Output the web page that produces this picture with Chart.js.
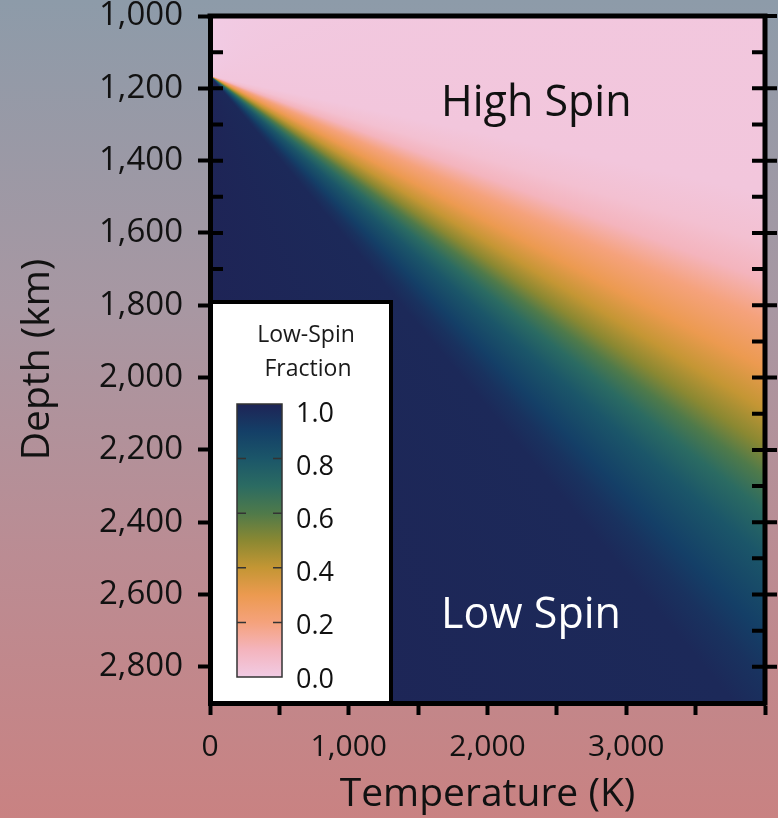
<!DOCTYPE html>
<html>
<head>
<meta charset="utf-8">
<script src="https://cdn.jsdelivr.net/npm/chart.js@4.4.1/dist/chart.umd.min.js"></script>
<style>
  html, body { margin: 0; padding: 0; }
  body {
    width: 778px; height: 818px; overflow: hidden;
    background: linear-gradient(to bottom, #8d9ba9 0%, #a897a2 38%, #bb8c93 68%, #c98282 100%);
  }
  #wrap { position: relative; width: 778px; height: 818px; }
</style>
</head>
<body>
<div id="wrap"><canvas id="spinChart" width="778" height="818"></canvas></div>
<script>
// axes
const depthMin = 1000, depthMax = 2900;
const tempMin = 0, tempMax = 4000;
const depthTicks = [1000, 1200, 1400, 1600, 1800, 2000, 2200, 2400, 2600, 2800];
const tempTicks = [0, 500, 1000, 1500, 2000, 2500, 3000, 3500, 4000];
const tempLabels = [0, 1000, 2000, 3000];

// low-spin fraction contours: all meet at T = 0, fan out with temperature
const originDepth = 1165;
const contourLevels = [0.02, 0.05, 0.1, 0.2, 0.3, 0.4, 0.5, 0.6, 0.7, 0.8, 0.9, 0.95, 0.98];
const contourDepthAt4000 = [1490, 1627, 1730, 1842, 1975, 2089, 2191, 2274, 2370, 2501, 2712, 2840, 3000];

// colour scale (fraction -> colour)
const cmapStops = [0, 0.1, 0.2, 0.3, 0.4, 0.5, 0.6, 0.7, 0.8, 0.9, 1.0];
const cmapColors = ['#f1cbe4', '#f4b4bd', '#f5a27c', '#ec9a50', '#c49634', '#8a8832',
                    '#4f7a4a', '#2b6b62', '#1b5669', '#143f67', '#1e2456'];
const cbarTicks = [1.0, 0.8, 0.6, 0.4, 0.2, 0.0];

const FONT = "'Open Sans', 'Noto Sans', sans-serif";

function hexToRgb(h) {
  const n = parseInt(h.slice(1), 16);
  return [n >> 16, (n >> 8) & 255, n & 255];
}
function colorAt(f) {
  for (let i = 1; i < cmapStops.length; i++) {
    if (f <= cmapStops[i]) {
      const t = (f - cmapStops[i - 1]) / (cmapStops[i] - cmapStops[i - 1]);
      const a = hexToRgb(cmapColors[i - 1]), b = hexToRgb(cmapColors[i]);
      return 'rgb(' + a.map((v, k) => Math.round(v + (b[k] - v) * t)).join(',') + ')';
    }
  }
  return cmapColors[cmapColors.length - 1];
}

// the fraction only depends on the direction from the meeting point,
// so one conic gradient shades every band
function spinGradient(chart) {
  const {ctx, scales: {x, y}} = chart;
  const ox = x.getPixelForValue(tempMin), oy = y.getPixelForValue(originDepth);
  const g = ctx.createConicGradient(-Math.PI / 2, ox, oy);
  g.addColorStop(0, colorAt(0));
  const ex = x.getPixelForValue(tempMax);
  contourLevels.forEach((lv, i) => {
    const ey = y.getPixelForValue(contourDepthAt4000[i]);
    const ang = Math.atan2(ey - oy, ex - ox);
    g.addColorStop((ang + Math.PI / 2) / (2 * Math.PI), colorAt(lv));
  });
  g.addColorStop(0.5, colorAt(1));
  g.addColorStop(1, colorAt(1));
  return g;
}

const last = contourLevels.length - 1;
const datasets = contourLevels.map((lv, i) => ({
  label: 'n_LS = ' + lv,
  data: [{x: tempMin, y: originDepth}, {x: tempMax, y: contourDepthAt4000[i]}],
  borderWidth: 0,
  borderColor: 'rgba(0,0,0,0)',
  pointRadius: 0,
  tension: 0,
  // deepest contour paints everything above it, the others everything below
  fill: i === last ? {value: depthMin} : {value: depthMax},
  backgroundColor: (c) => c.chart.chartArea ? spinGradient(c.chart) : 'rgba(0,0,0,0)'
}));

const framePlugin = {
  id: 'frame',
  afterDraw(chart) {
    const {ctx, chartArea: a, scales: {x, y}} = chart;
    ctx.save();
    ctx.strokeStyle = '#000';
    ctx.lineCap = 'butt';
    ctx.lineWidth = 5;
    ctx.beginPath();
    ctx.moveTo(a.left - 2.5, a.top);
    ctx.lineTo(a.right, a.top);
    ctx.lineTo(a.right, a.bottom + 2.5);
    ctx.stroke();

    ctx.lineWidth = 4;
    ctx.beginPath();
    for (let d = depthMin; d <= depthMax; d += 100) {
      const py = y.getPixelForValue(d);
      ctx.moveTo(a.left, py);
      ctx.lineTo(a.left + 13, py);
      ctx.moveTo(a.right - 13, py);
      ctx.lineTo(a.right + (depthTicks.includes(d) ? 12 : 0), py);
    }
    ctx.stroke();

    // legend box
    const bx = a.left + 1, by = 302, bw = 180, bh = a.bottom - by;
    ctx.fillStyle = '#ffffff';
    ctx.fillRect(bx, by, bw, bh);
    ctx.lineWidth = 4;
    ctx.strokeRect(bx, by, bw, bh);

    ctx.fillStyle = '#1a1a1a';
    ctx.font = '23px ' + FONT;
    ctx.textAlign = 'center';
    ctx.textBaseline = 'middle';
    ctx.fillText('Low-Spin', 306, 335);
    ctx.fillText('Fraction', 308, 369);

    const cx = 237, cw = 45, cTop = 404, cBot = 677;
    const lg = ctx.createLinearGradient(0, cBot, 0, cTop);
    cmapStops.forEach((s, i) => lg.addColorStop(s, cmapColors[i]));
    ctx.fillStyle = lg;
    ctx.fillRect(cx, cTop, cw, cBot - cTop);
    ctx.lineWidth = 1.5;
    ctx.strokeStyle = '#333';
    ctx.strokeRect(cx, cTop, cw, cBot - cTop);
    ctx.beginPath();
    cbarTicks.forEach(v => {
      if (v === 0 || v === 1) return;
      const py = cBot - v * (cBot - cTop);
      ctx.moveTo(cx, py); ctx.lineTo(cx + 9, py);
      ctx.moveTo(cx + cw - 9, py); ctx.lineTo(cx + cw, py);
    });
    ctx.stroke();

    ctx.fillStyle = '#111';
    ctx.font = '27px ' + FONT;
    ctx.textAlign = 'left';
    cbarTicks.forEach(v => {
      ctx.fillText(v.toFixed(1), 296, 414 + (1 - v) * 266);
    });

    // region names
    ctx.font = '43px ' + FONT;
    ctx.textBaseline = 'alphabetic';
    ctx.fillStyle = '#111';
    ctx.fillText('High Spin', x.getPixelForValue(1665), y.getPixelForValue(1277));
    ctx.fillStyle = '#ffffff';
    ctx.fillText('Low Spin', x.getPixelForValue(1665), y.getPixelForValue(2693));
    ctx.restore();
  }
};

new Chart('spinChart', {
  type: 'line',
  data: { datasets: datasets },
  options: {
    responsive: false,
    animation: false,
    locale: 'en-US',
    layout: { padding: { top: 16, right: 13, left: 0, bottom: 0 } },
    plugins: { legend: { display: false }, tooltip: { enabled: false } },
    scales: {
      x: {
        type: 'linear', min: tempMin, max: tempMax,
        afterBuildTicks: (s) => { s.ticks = tempTicks.map(v => ({value: v})); },
        afterFit: (s) => { s.height = 115; s.paddingLeft = 0; s.paddingRight = 0; },
        ticks: {
          autoSkip: false, maxRotation: 0, padding: 14, color: '#111',
          font: { family: FONT, size: 30 },
          callback: (v) => tempLabels.includes(v) ? v.toLocaleString('en-US') : ''
        },
        grid: { drawOnChartArea: false, tickLength: 12, tickWidth: 4, tickColor: '#000' },
        border: { display: true, color: '#000', width: 5, z: 1 },
        title: { display: true, text: 'Temperature (K)', color: '#111',
                 font: { family: FONT, size: 39 }, padding: { top: 0, bottom: 0 } }
      },
      y: {
        type: 'linear', min: depthMin, max: depthMax, reverse: true,
        afterBuildTicks: (s) => { s.ticks = depthTicks.map(v => ({value: v})); },
        afterFit: (s) => { s.width = 210; s.paddingTop = 0; s.paddingBottom = 0; },
        ticks: {
          autoSkip: false, padding: 15, color: '#111',
          font: { family: FONT, size: 33 }
        },
        grid: { drawOnChartArea: false, tickLength: 12, tickWidth: 4, tickColor: '#000' },
        border: { display: true, color: '#000', width: 5, z: 1 },
        title: { display: true, text: 'Depth (km)', color: '#111',
                 font: { family: FONT, size: 39 }, padding: { top: 14, bottom: 0 } }
      }
    }
  },
  plugins: [framePlugin]
});
</script>
</body>
</html>
